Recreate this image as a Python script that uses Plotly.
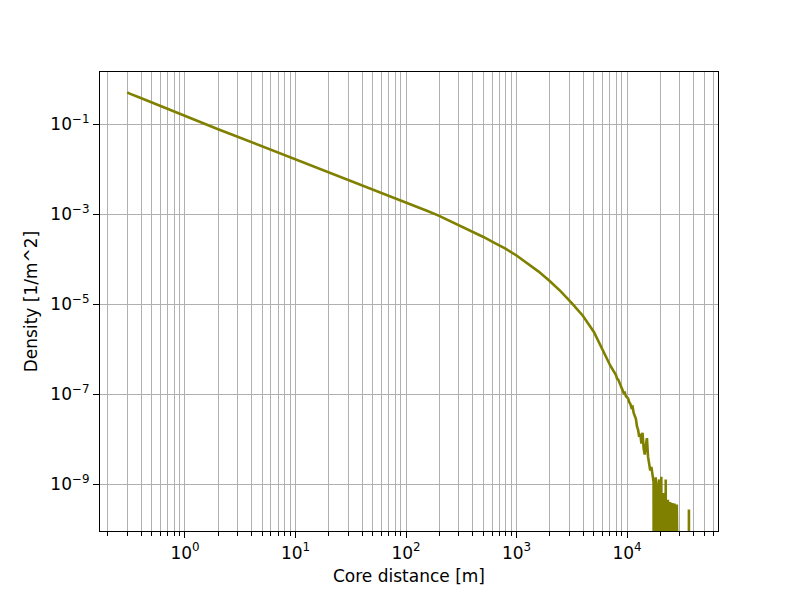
import plotly.graph_objects as go

# Core distance [m]
core_distance = [
    0.3, 0.316, 0.398, 0.501, 0.631, 0.794, 1.0, 1.259, 1.585, 1.995,
    2.512, 3.162, 3.981, 5.012, 6.31, 7.943, 10.0, 12.59, 15.85, 19.95,
    25.12, 31.62, 39.81, 50.12, 63.1, 79.43, 100.0, 125.9, 158.5, 199.5,
    251.2, 316.2, 398.1, 501.2, 631.0, 794.3, 1000.0, 1259.0, 1585.0, 1995.0,
    2512.0, 3162.0, 3981.0, 5012.0, 6310.0, 7079.0,
    7943, 8128, 8318, 8511, 8710, 8913, 9120, 9333, 9550, 9772,
    10000, 10233, 10471, 10715, 10965, 11220, 11482, 11749, 12023, 12303,
    12589, 12882, 13183, 13490, 13804, 14125, 14454, 14791, 15136, 15488,
    15849, 16218, 16596, 16982, 17378, 17783, 18197, 18621, 19055, 19498,
    19953, 20417, 20893, 21380, 21878, 22387, 22909, 23442, 23988, 24547,
    25119, 25704, 26303, 26915, 27542, 28184, 28840, 29512, 35481, 36308,
    37154,
]

# Density [1/m^2]  (0 = empty bin)
density = [
    0.505, 0.473, 0.380, 0.302, 0.240, 0.188, 0.148, 0.119, 0.0955, 0.0767,
    0.0617, 0.0495, 0.0398, 0.0320, 0.0257, 0.0207, 0.0166, 0.0133, 0.0107, 8.61e-3,
    6.92e-3, 5.56e-3, 4.47e-3, 3.55e-3, 2.82e-3, 2.24e-3, 1.78e-3, 1.45e-3, 1.15e-3, 9.1e-4,
    7.0e-4, 5.37e-4, 4.07e-4, 3.09e-4, 2.29e-4, 1.70e-4, 1.20e-4, 8.1e-5, 5.25e-5, 3.24e-5,
    1.91e-5, 1.05e-5, 5.5e-6, 2.4e-6, 7.1e-7, 4.2e-7,
    2.63e-7, 2.19e-7, 2.09e-7, 1.82e-7, 1.58e-7, 1.38e-7, 1.20e-7, 1.05e-7, 1.07e-7, 8.9e-8,
    8.5e-8, 7.9e-8, 6.6e-8, 6.0e-8, 5.0e-8, 5.2e-8, 3.8e-8, 3.2e-8, 2.8e-8, 1.9e-8,
    1.6e-8, 1.12e-8, 1.32e-8, 7.9e-9, 1.38e-8, 6.3e-9, 4.5e-9, 7.1e-9, 1.05e-8, 4.0e-9,
    2.8e-9, 2.0e-9, 2.4e-9, 1.6e-9, 1.12e-9, 0, 1.41e-9, 0, 8.9e-10, 1.26e-9,
    0, 1.45e-9, 0, 6.3e-10, 0, 1.26e-9, 0, 4.5e-10, 0, 4.0e-10,
    0, 3.8e-10, 0, 3.7e-10, 0, 3.5e-10, 0, 0, 0, 2.7e-10,
    0,
]

x_major = [1, 10, 100, 1000, 10000]
x_major_text = ["10<sup>0</sup>", "10<sup>1</sup>", "10<sup>2</sup>", "10<sup>3</sup>", "10<sup>4</sup>"]
x_minor = [m * 10 ** k for k in range(-1, 5) for m in range(2, 10)]
y_major = [1e-9, 1e-7, 1e-5, 1e-3, 1e-1]
y_major_text = ["10<sup>\u22129</sup>", "10<sup>\u22127</sup>", "10<sup>\u22125</sup>",
                "10<sup>\u22123</sup>", "10<sup>\u22121</sup>"]

# empty bins are clipped far below the axis (like matplotlib's log clipping)
y_plot = [d if d > 0 else 1e-30 for d in density]

FONT = "DejaVu Sans"
GRID = "#b0b0b0"
FS = 17

fig = go.Figure()
fig.add_trace(go.Scatter(
    x=core_distance, y=y_plot, mode="lines",
    line=dict(color="#808000", width=2.6),
    showlegend=False,
))

fig.update_layout(
    width=789, height=590,
    margin=dict(l=92, r=79, t=64, b=67),
    paper_bgcolor="white", plot_bgcolor="white",
    font=dict(family=FONT, size=FS, color="black"),
)

fig.update_xaxes(
    type="log", range=[-0.769, 4.823],
    tickmode="array", tickvals=x_major, ticktext=x_major_text,
    ticks="outside", ticklen=6, tickwidth=1.2, tickcolor="black",
    showgrid=True, gridcolor=GRID, gridwidth=1.3,
    minor=dict(tickmode="array", tickvals=x_minor, ticks="outside", ticklen=3.5,
               tickwidth=1, tickcolor="black", showgrid=True, gridcolor=GRID, gridwidth=1.3),
    showline=True, linecolor="black", linewidth=1.2, mirror=True,
    title=dict(text="Core distance [m]", font=dict(family=FONT, size=FS), standoff=8),
    tickfont=dict(family=FONT, size=FS),
)
fig.update_yaxes(
    type="log", range=[-10.044, 0.156],
    tickmode="array", tickvals=y_major, ticktext=y_major_text,
    ticks="outside", ticklen=6, tickwidth=1.2, tickcolor="black",
    showgrid=True, gridcolor=GRID, gridwidth=1.3,
    showline=True, linecolor="black", linewidth=1.2, mirror=True,
    title=dict(text="Density [1/m^2]", font=dict(family=FONT, size=FS), standoff=8),
    tickfont=dict(family=FONT, size=FS),
)

fig.write_html("out.html")
